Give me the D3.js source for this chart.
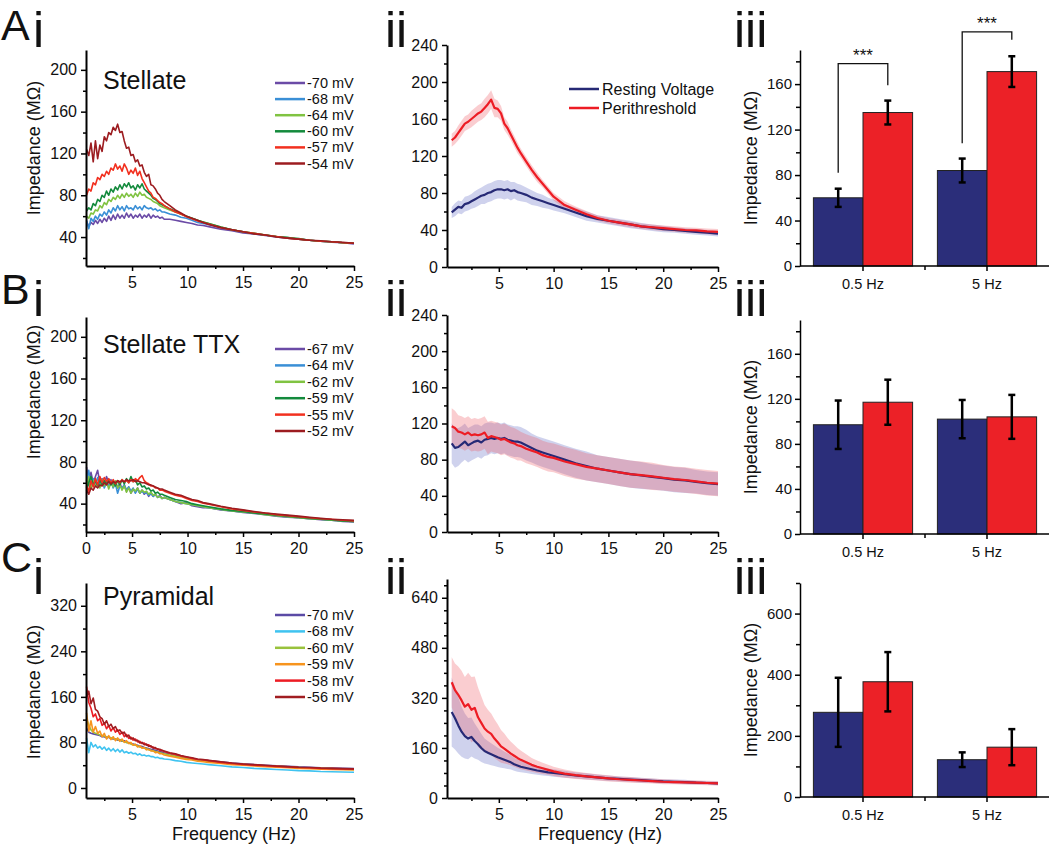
<!DOCTYPE html>
<html><head><meta charset="utf-8">
<script src="https://cdn.jsdelivr.net/npm/d3@7"></script>
<style>body{margin:0;background:#fff} svg{display:block}</style>
</head><body><svg id="c" width="1050" height="844"></svg>
<script>
// ---------------- DATA ----------------
const freqI = [0.9,1.1,1.3,1.5,1.7,1.9,2.1,2.3,2.5,2.7,2.9,3.1,3.3,3.5,3.7,3.9,4.1,4.3,4.5,4.7,4.9,5.1,5.3,5.5,5.7,5.9,6.1,6.3,6.5,6.7,6.9,7.1,7.3,7.5,7.7,7.9,8.4,8.9,9.4,9.9,10.4,10.9,11.4,11.9,13,14,15,16,17,18,19,20,21,22,23,24,25];
const freqII = [0.7,1,1.3,1.6,1.9,2.2,2.5,2.8,3.1,3.4,3.7,4,4.3,4.6,4.9,5.2,5.5,5.8,6.1,6.4,6.7,7,7.5,8,8.5,9,9.5,10,11,12,13,14,15,16,17,18,19,20,21,22,23,24,25];

// A i  Stellate
const aLabels = ["-70 mV","-68 mV","-64 mV","-60 mV","-57 mV","-54 mV"];
const aColors = ["#6b4ba6","#3a8fd6","#80c342","#138a3c","#f2301f","#9c1c20"];
const ai70 = [55,50,54,52,56,53,57,54,58,55,60,56,61,57,62,58,61,58,63,59,62,58,61,59,62,58,61,59,62,58,61,59,60,58,59,57,57,56,55,54,53,51.5,51,50,47.5,46,44,43,41.5,40,39,38,37,36,35,34.5,33.5];
const ai68 = [56,48,58,55,60,57,62,60,64,61,66,63,68,65,70,66,69,65,70,67,68,66,70,67,69,66,70,68,67,68,66,67,65,66,64,64,62,61,59,58,56,54,53,52,49,47,45,43,42,40.5,39.5,38.5,37,36,35.5,34.5,34];
const ai64 = [60,58,63,62,66,65,70,68,73,71,76,74,78,76,80,77,81,78,82,79,81,78,82,79,83,80,81,78,77,76,74,73,72,70,69,68,66,64,62,60,58,56,54.5,53,49.5,47,45,43.5,42,40.5,39.5,38.5,37,36,35.5,34.5,34];
const ai60 = [65,68,66,72,70,76,74,80,78,84,80,86,83,88,85,90,86,91,88,92,87,89,85,90,87,91,86,84,82,80,77,76,74,72,71,70,67,65,62,60,58,56,54.5,53,49.5,47,45,43.5,42,40.5,39.5,38,37,36,35.5,34.5,34];
const ai57 = [80,86,84,92,90,97,95,100,98,103,100,106,104,110,105,108,103,110,106,100,104,101,106,99,103,96,92,88,84,82,78,77,75,73,72,70,67,64,62,59.5,57.5,55.5,54,52.5,49,47,45,43.5,42,40.5,39,38,37,36,35.5,34.5,34];
const ai54 = [124,118,130,112,132,115,128,122,136,132,140,138,145,142,148,140,141,132,125,126,118,119,112,114,108,109,102,98,100,90,89,86,82,80,76,74,70,66,63,60,58,56,54,52,49,47,45,43,42,40,39,38,37,36.5,35.5,35,34];

// B i  Stellate TTX
const bLabels = ["-67 mV","-64 mV","-62 mV","-59 mV","-55 mV","-52 mV"];
const bi67 = [75,58,70,60,66,72,60,64,58,66,60,63,56,61,55,60,54,58,52,56,50,54,51,55,50,53,49,51,47,50,47,49,46,48,45,46,44,42,40,41,38,37,36,36,34,33,31.5,30.5,29.5,28,27,26.5,25.5,24.5,24,23,22.5];
const bi64 = [62,72,56,64,58,65,57,62,55,60,57,62,55,59,50,57,55,58,53,56,52,55,50,54,50,52,50,51,48,50,47,49,46,47,45,46,44,42,41,40,39,38,37,36,34.5,33,32,31,30,28.5,27.5,26.5,25.5,25,24,23.5,23];
const bi62 = [55,66,54,62,57,60,55,63,57,61,54,60,56,62,55,58,53,57,51,55,50,54,52,55,50,53,51,52,49,51,48,49,46,47,45,46,44,42,41,40,39,38,37,36,34.5,33,32,31,29.5,28.5,27.5,26.5,25.5,25,24,23.5,23];
const bi59 = [52,60,66,58,62,57,63,58,62,59,63,58,61,57,62,58,63,59,64,60,66,61,63,58,60,56,57,54,55,52,53,50,51,49,49,48,46,44,43,42,40,39,38,37,35,33.5,32.5,31,30,29,28,27,26,25,24.5,23.5,23];
const bi55 = [57,52,62,56,64,58,66,60,65,61,64,60,63,59,62,60,63,61,62,60,63,61,64,62,65,67,62,60,59,57,57,55,55,53,53,52,50,48,47,45,43,42,40.5,39.5,37,35,33.5,32,31,29.5,28.5,27.5,26.5,25.5,25,24,23.5];
const bi52 = [53,49,55,53,57,55,58,57,60,58,61,59,61,60,62,61,62,61,63,62,62,63,61,62,61,60,60,59,58,58,57,56,55,54,54,53,51,49,48,46,44,43,41,40,37.5,35.5,34,32.5,31,30,29,28,27,26,25,24.5,24];

// C i  Pyramidal
const cLabels = ["-70 mV","-68 mV","-60 mV","-59 mV","-58 mV","-56 mV"];
const cColors = ["#5b4aa5","#3fc3f0","#99c23c","#f7941d","#ed1c24","#a11d21"];
const ci70 = [105,98,96,95,94,93,92,90,90,88,89,87,86,86,84,85,82,83,80,80,78,77,76,75,73,73,71,70,69,68,67,66,65,64,63,62,60,58,56,54,52,50,49,48,46,44,42.5,41,40,39,38,37,36.5,35.5,35,34.5,34];
const ci68 = [88,62,80,72,76,70,73,68,72,66,70,65,69,64,68,63,67,62,64,61,63,60,61,58,60,57,58,56,57,55,55,53,54,52,52,51,50,48,47,45,44,43,42,41,39,37,36,34.5,33.5,32.5,31.5,30.5,30,29,28.5,28,27.5];
const ci60 = [122,110,102,98,96,95,93,92,91,90,89,88,87,86,85,84,83,81,80,79,77,76,75,74,72,71,70,69,67,66,65,64,63,62,61,60,58,56,54,52,51,49,48,47,45,43,41.5,40,39,38,37,36,35,34.5,34,33,32.5];
const ci59 = [132,100,118,98,108,96,100,90,96,86,92,85,90,83,88,82,86,80,83,78,80,75,77,72,74,70,71,67,68,65,65,62,63,60,60,58,56,54,52,50,49,47,46,45,43,41,40,38.5,37.5,36.5,35.5,34.5,34,33,32.5,32,31.5];
const ci58 = [178,150,140,125,130,118,122,110,114,104,110,100,106,98,102,94,98,90,94,87,89,84,86,81,82,78,79,75,76,72,72,69,69,66,66,64,61,59,56,54,52,50,49,48,45,43,41.5,40,39,38,37,36,35.5,34.5,34,33.5,33];
const ci56 = [160,170,148,158,138,135,125,122,112,118,108,112,104,108,100,102,96,98,90,93,86,88,83,84,79,80,76,77,73,74,70,71,68,68,66,65,62,60,57,55,53,51,50,48.5,46,44,42,41,40,38.5,37.5,36.5,36,35,34.5,34,33.5];

// ii  mean +/- sem
const iiLabels = ["Resting Voltage","Perithreshold"];
const aiiRest = [59,62,65,64,68,69,71,73,75,77,78,80,81,83,84,84,83,84,82,83,81,80,78,75,73,71,69,67,63,59,55,52,50,48,46,44,42.5,41,40,39,38,37,36];
const aiiRestSem = [6,7,7,7,8,8,8,9,9,9,10,10,10,10,10,10,10,10,10,9,9,9,8,8,7,7,6,6,5,5,5,4,4,4,4,3.5,3.5,3.5,3,3,3,3,3];
const aiiPeri = [137,140,145,150,155,157,160,163,166,168,172,176,181,172,171,166,155,150,143,136,129,123,114,105,97,90,83,76,67,62,57,53,50,48,46,44,43,42,41,40,39.5,38.5,38];
const aiiPeriSem = [7,7,8,8,8,8,9,9,9,9,10,10,10,10,9,8,7,7,6,6,6,5,5,5,5,4,4,4,4,3.5,3.5,3,3,3,3,3,3,3,3,3,3,3,3];
const biiRest = [98,93,94,97,100,96,98,100,101,99,102,103,104,103,104,103,104,102,101,100,100,99,96,93,90,88,86,84,80,76,73,70,68,66,64,62.5,61,59.5,58,57,55.5,54,53];
const biiRestSem = [22,22,21,20,20,19,19,19,18,18,18,18,17,17,17,17,17,17,17,17,17,17,17,16,16,16,16,16,16,16,16,15,15,15,15,15,14,14,14,14,13,13,13];
const biiPeri = [117,115,111,110,108,110,107,108,107,108,110,104,106,105,104,102,103,101,99,98,96,95,92,90,88,85,83,82,78,75,72,70,68,66,64,63,61.5,60,58.5,57.5,56,54.5,53.5];
const biiPeriSem = [20,19,18,18,18,18,18,18,18,18,18,18,17,17,17,17,17,17,17,17,17,16,16,16,16,16,16,16,16,16,15,15,15,15,15,15,15,14,14,14,14,14,14];
const ciiRest = [275,255,232,212,198,190,195,182,172,160,150,145,140,135,130,126,122,118,114,108,104,100,96,92,88,85,82,80,76,72,69,66,63,61,59,57,55,53,52,51,49,48,47];
const ciiRestSem = [110,100,90,80,72,66,62,56,50,45,40,37,35,33,31,29,27,25,23,21,20,18,16,15,14,13,12,12,11,10,10,9,9,8,8,8,7,7,7,7,6,6,6];
const ciiPeri = [370,345,330,312,292,300,282,288,258,240,222,212,205,190,178,165,158,150,142,135,128,122,114,106,100,95,90,85,78,73,69,66,63,60,58,56,54,52,51,50,49,48,47];
const ciiPeriSem = [80,85,90,95,95,100,105,100,95,85,75,70,65,62,58,52,48,42,38,35,32,30,26,22,20,18,16,15,13,12,11,10,10,9,9,8,8,8,7,7,7,7,7];

// iii  bars
const barCats = ["0.5 Hz","5 Hz"];
const aiiiRest = [60,84], aiiiRestErr = [8,10.5], aiiiPeri = [135,171], aiiiPeriErr = [10.5,13.5];
const biiiRest = [97,102], biiiRestErr = [21.5,17], biiiPeri = [117,104], biiiPeriErr = [20,19.5];
const ciiiRest = [277,122], ciiiRestErr = [113,24], ciiiPeri = [377,163], ciiiPeriErr = [97,59];
const sigTop = [178,206], sigLeftEnd = [82,108], sigRightEnd = [159,199];

// tick labels
const tickI_AB = [40,80,120,160,200], minorI_AB = [20,60,100,140,180];
const tickI_C = [0,80,160,240,320], minorI_C = [40,120,200,280];
const tickII_AB = [0,40,80,120,160,200,240], minorII_AB = [20,60,100,140,180,220];
const tickII_C = [0,160,320,480,640], minorII_C = [40,80,120,200,240,280,360,400,440,520,560,600,680];
const tickIII_AB = [0,40,80,120,160], minorIII_AB = [20,60,100,140,180];
const tickIII_C = [0,200,400,600], minorIII_C = [100,300,500,700];
const freqTicks = [5,10,15,20,25], freqTicksB = [0.85,5,10,15,20,25], freqMinor = [2.5,7.5,12.5,17.5,22.5];

// ---------------- DRAW ----------------
const FONT = '"Liberation Sans", Arial, Helvetica, sans-serif';
const svg = d3.select("#c");
const NAVY = "#262975", RED = "#ed1c24";

function styleAxis(g, fs, dw){
  g.select(".domain").attr("stroke","#000").attr("stroke-width",dw);
  g.selectAll(".tick line").attr("stroke","#000").attr("stroke-width",1.5);
  g.selectAll("text").attr("font-family",FONT).attr("font-size",fs).attr("fill","#111");
}
function txt(x,y,s,fs,anchor,extra){
  const t = svg.append("text").attr("x",x).attr("y",y).text(s).attr("font-family",FONT)
    .attr("font-size",fs).attr("fill","#111").attr("text-anchor",anchor||"start");
  if(extra) extra(t);
  return t;
}

function tracePanel(o){
  const x = d3.scaleLinear().domain(o.xDom).range([o.x0,o.x1]);
  const y = d3.scaleLinear().domain(o.yDom).range([o.y1,o.y0]);
  const g = svg.append("g");
  (o.bands||[]).forEach(b=>{
    g.append("path").datum(b.f.map((f,i)=>[f,b.m[i],b.s[i]])).attr("fill",b.fill)
      .attr("d", d3.area().x(d=>x(d[0])).y0(d=>y(d[1]-d[2])).y1(d=>y(d[1]+d[2])));
  });
  o.series.forEach(s=>{
    g.append("path").datum(s.f.map((f,i)=>[f,s.v[i]])).attr("fill","none")
      .attr("stroke",s.c).attr("stroke-width",s.w||1.6).attr("stroke-linejoin","round")
      .attr("d", d3.line().x(d=>x(d[0])).y(d=>y(d[1])));
  });
  const gy = svg.append("g").attr("transform",`translate(${o.x0},0)`)
    .call(d3.axisLeft(y).tickValues(o.yTicks).tickSize(5).tickPadding(4).tickSizeOuter(0));
  styleAxis(gy,16,2);
  const gym = svg.append("g").attr("transform",`translate(${o.x0},0)`)
    .call(d3.axisLeft(y).tickValues(o.yMinor).tickSize(3).tickFormat("").tickSizeOuter(0));
  gym.select(".domain").remove(); styleAxis(gym,16,2);
  const gx = svg.append("g").attr("transform",`translate(0,${o.y1})`)
    .call(d3.axisBottom(x).tickValues(o.xTicks).tickSize(5).tickPadding(6).tickSizeOuter(0)
      .tickFormat(d=> d<1 ? "0" : d3.format("d")(d)));
  styleAxis(gx,16,2);
  const gxm = svg.append("g").attr("transform",`translate(0,${o.y1})`)
    .call(d3.axisBottom(x).tickValues(freqMinor).tickSize(3).tickFormat("").tickSizeOuter(0));
  gxm.select(".domain").remove(); styleAxis(gxm,16,2);
  return {x,y};
}

function legendI(labels, colors, y0, step){
  labels.forEach((l,i)=>{
    const yy = y0 + i*step;
    svg.append("line").attr("x1",275).attr("x2",305).attr("y1",yy).attr("y2",yy)
      .attr("stroke",colors[i]).attr("stroke-width",2.5);
    txt(307,yy+5,l,14.5);
  });
}
function yTitle(x,cy,fs){
  txt(0,0,"Impedance (MΩ)",fs,"middle",t=>t.attr("transform",`translate(${x},${cy}) rotate(-90)`));
}

// ---- i panels
const iX = [86,354];
function iPanel(y0,y1,yDom,yT,yM,xT,vals,colors){
  tracePanel({x0:iX[0],x1:iX[1],y0,y1,xDom:[0.85,25],yDom,yTicks:yT,yMinor:yM,xTicks:xT,
    series: vals.map((v,i)=>({f:freqI,v,c:colors[i]}))});
}
iPanel(50,266,[12.3,219],tickI_AB,minorI_AB,freqTicks,[ai70,ai68,ai64,ai60,ai57,ai54],aColors);
iPanel(317,532,[12.8,219],tickI_AB,minorI_AB,freqTicksB,[bi67,bi64,bi62,bi59,bi55,bi52],aColors);
iPanel(583,798,[-17.6,360],tickI_C,minorI_C,freqTicks,[ci70,ci68,ci60,ci59,ci58,ci56],cColors);
legendI(aLabels,aColors,83,16.1);
legendI(bLabels,aColors,349,16.4);
legendI(cLabels,cColors,615,16.4);
txt(103,89,"Stellate",25);
txt(103,353,"Stellate TTX",25);
txt(103,605,"Pyramidal",25);
yTitle(40,148,18); yTitle(40,392,18); yTitle(40,692,18);
txt(234,840,"Frequency (Hz)",18,"middle");
txt(600,840,"Frequency (Hz)",18,"middle");

// ---- ii panels
const iiX = [447,718];
const BLUEBAND = "rgba(105,115,200,0.32)", REDBAND = "rgba(238,90,100,0.30)";
function iiPanel(y0,y1,yDom,yT,yM,rest,restSem,peri,periSem){
  tracePanel({x0:iiX[0],x1:iiX[1],y0,y1,xDom:[0.27,25],yDom,yTicks:yT,yMinor:yM,xTicks:freqTicks,
    bands:[{f:freqII,m:rest,s:restSem,fill:BLUEBAND},{f:freqII,m:peri,s:periSem,fill:REDBAND}],
    series:[{f:freqII,v:rest,c:NAVY,w:2.2},{f:freqII,v:peri,c:RED,w:2.2}]});
}
iiPanel(45,267,[0,240],tickII_AB,minorII_AB,aiiRest,aiiRestSem,aiiPeri,aiiPeriSem);
iiPanel(315,532,[0,240],tickII_AB,minorII_AB,biiRest,biiRestSem,biiPeri,biiPeriSem);
iiPanel(579,798,[0,700],tickII_C,minorII_C,ciiRest,ciiRestSem,ciiPeri,ciiPeriSem);
iiLabels.forEach((l,i)=>{
  const yy = 89 + i*19;
  svg.append("line").attr("x1",569).attr("x2",599).attr("y1",yy).attr("y2",yy)
    .attr("stroke",[NAVY,RED][i]).attr("stroke-width",2.5);
  txt(602,yy+6,l,16);
});

// ---- iii panels
function barPanel(o){
  const x = d3.scaleBand().domain(barCats).range([801,1049]).paddingInner(0.2).paddingOuter(0.1);
  const xs = d3.scaleBand().domain(["rest","peri"]).range([0,x.bandwidth()]);
  const y = d3.scaleLinear().domain(o.yDom).range([o.y1,o.y0]);
  const groups = [["rest",o.rest,o.restErr,"#2b2e7a"],["peri",o.peri,o.periErr,"#ec2127"]];
  groups.forEach(([k,vals,errs,col])=>{
    barCats.forEach((c,i)=>{
      const bx = x(c)+xs(k);
      svg.append("rect").attr("x",bx).attr("y",y(vals[i])).attr("width",xs.bandwidth())
        .attr("height",y(0)-y(vals[i])).attr("fill",col).attr("stroke","#222").attr("stroke-width",1);
    });
  });
  groups.forEach(([k,vals,errs])=>{
    barCats.forEach((c,i)=>{
      const cx = x(c)+xs(k)+xs.bandwidth()/2;
      const g = svg.append("g").attr("stroke","#000").attr("stroke-width",2.5);
      g.append("line").attr("x1",cx).attr("x2",cx).attr("y1",y(vals[i]-errs[i])).attr("y2",y(vals[i]+errs[i]));
      [vals[i]-errs[i],vals[i]+errs[i]].forEach(v=>g.append("line").attr("x1",cx-3.5).attr("x2",cx+3.5).attr("y1",y(v)).attr("y2",y(v)));
    });
  });
  const gy = svg.append("g").attr("transform",`translate(800,0)`)
    .call(d3.axisLeft(y).tickValues(o.yTicks).tickSize(5).tickPadding(3).tickSizeOuter(0));
  styleAxis(gy,15,1.5);
  const gym = svg.append("g").attr("transform",`translate(800,0)`)
    .call(d3.axisLeft(y).tickValues(o.yMinor).tickSize(4).tickFormat("").tickSizeOuter(0));
  gym.select(".domain").remove(); styleAxis(gym,15,1.5);
  const gx = svg.append("g").attr("transform",`translate(0,${o.y1})`)
    .call(d3.axisBottom(x).tickSize(5).tickPadding(8).tickSizeOuter(0));
  gx.select(".domain").attr("d",`M800,0H1049`);
  styleAxis(gx,14.5,1.5);
  const mid = (x(barCats[0])+x.bandwidth()+x(barCats[1]))/2;
  svg.append("line").attr("x1",mid).attr("x2",mid).attr("y1",o.y1).attr("y2",o.y1+4).attr("stroke","#000").attr("stroke-width",1.5);
  yTitle(757,(o.y0+o.y1)/2,18);
  if(o.sig){
    barCats.forEach((c,i)=>{
      const lx = x(c)+xs("rest")+xs.bandwidth()/2, rx = x(c)+xs("peri")+xs.bandwidth()/2;
      svg.append("path").attr("fill","none").attr("stroke","#111").attr("stroke-width",1.3)
        .attr("d",`M${lx},${y(sigLeftEnd[i])}V${y(sigTop[i])}H${rx}V${y(sigRightEnd[i])}`);
      txt((lx+rx)/2,y(sigTop[i])-3,"***",17,"middle");
    });
  }
}
barPanel({y0:50,y1:266,yDom:[0,190],yTicks:tickIII_AB,yMinor:minorIII_AB,rest:aiiiRest,restErr:aiiiRestErr,peri:aiiiPeri,periErr:aiiiPeriErr,sig:true});
barPanel({y0:320,y1:534,yDom:[0,190],yTicks:tickIII_AB,yMinor:minorIII_AB,rest:biiiRest,restErr:biiiRestErr,peri:biiiPeri,periErr:biiiPeriErr});
barPanel({y0:583,y1:797,yDom:[0,700],yTicks:tickIII_C,yMinor:minorIII_C,rest:ciiiRest,restErr:ciiiRestErr,peri:ciiiPeri,periErr:ciiiPeriErr});

// ---- panel letters
[["A",1,40],["B",1,304],["C",1,572]].forEach(([s,x,y])=>txt(x,y,s,43));
[[0,47],[1,316],[2,594]].forEach(([r,y])=>{
  txt(33,y,"i",50); txt(385,y,"ii",50); txt(734,y,"iii",50);
});
</script></body></html>
